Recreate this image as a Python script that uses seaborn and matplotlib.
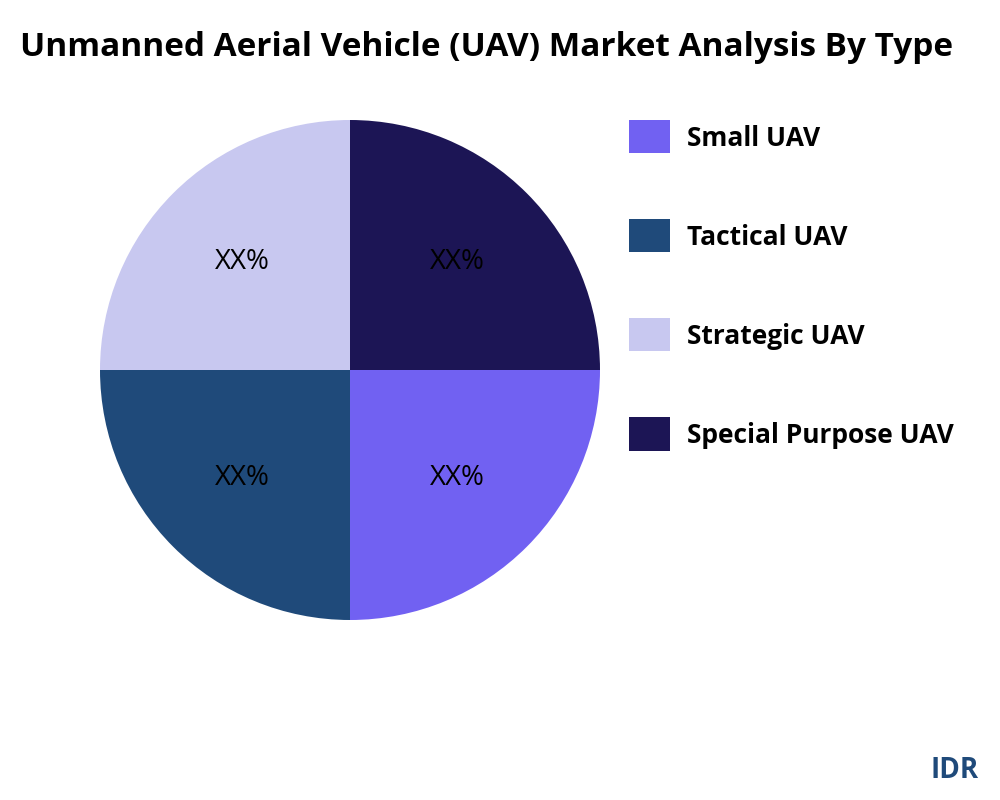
import matplotlib
matplotlib.use("Agg")
import matplotlib.pyplot as plt
import seaborn as sns

sns.set_theme(style="white")
plt.rcParams['font.family'] = ['Open Sans', 'DejaVu Sans']
plt.rcParams['text.color'] = 'black'

categories = ["Small UAV", "Tactical UAV", "Strategic UAV", "Special Purpose UAV"]
values = [25, 25, 25, 25]
colors = ["#7161F2", "#1F4A7A", "#C8C8F0", "#1C1555"]

fig = plt.figure(figsize=(10, 8), dpi=100)
ax = fig.add_axes([0.1, 0.225, 0.5, 0.625])
wedges, texts, autotexts = ax.pie(values, colors=colors, startangle=0, counterclock=False,
                                  autopct=lambda p: "XX%", pctdistance=0.61,
                                  wedgeprops={"linewidth": 0},
                                  textprops={"fontsize": 20, "color": "black",
                                             "family": ["Open Sans", "DejaVu Sans"]})
ax.set_xlim(-1, 1)
ax.set_ylim(-1, 1)
ax.set_aspect("equal")

fig.text(0.02, 0.94, "Unmanned Aerial Vehicle (UAV) Market Analysis By Type",
         fontsize=24, fontweight="bold", va="center", ha="left")
leg = fig.legend(wedges, categories, loc="upper left", bbox_to_anchor=(0.616, 0.866),
                 frameon=False, fontsize=19, handlelength=1.55, handleheight=1.55,
                 labelspacing=2.5, borderpad=0, handletextpad=0.65)
for t in leg.get_texts():
    t.set_fontweight("bold")
fig.text(0.955, 0.037, "IDR", fontsize=20, fontweight="bold", color="#1F4A7A",
         ha="center", va="center")
fig.savefig("out.png", dpi=100)
